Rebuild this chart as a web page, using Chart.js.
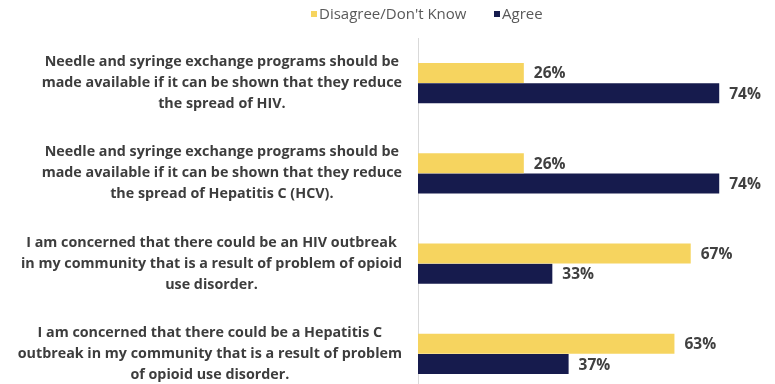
<!DOCTYPE html>
<html>
<head>
<meta charset="utf-8">
<script src="https://cdn.jsdelivr.net/npm/chart.js@4/dist/chart.umd.min.js"></script>
<style>
  html, body { margin: 0; padding: 0; background: #fff; overflow: hidden; }
  #wrap { width: 775px; height: 400px; }
</style>
</head>
<body>
<div id="wrap"><canvas id="survey" width="775" height="400"></canvas></div>
<script>
// statements, one array of lines per category
const statements = [
  ['Needle and syringe exchange programs should be', 'made available if it can be shown that they reduce', 'the spread of HIV.'],
  ['Needle and syringe exchange programs should be', 'made available if it can be shown that they reduce', 'the spread of Hepatitis C (HCV).'],
  ['I am concerned that there could be an HIV outbreak', 'in my community that is a result of problem of opioid', 'use disorder.'],
  ['I am concerned that there could be a Hepatitis C', 'outbreak in my community that is a result of problem', 'of opioid use disorder.']
];
const seriesNames = ["Disagree/Don't Know", 'Agree'];
const disagreeVals = [26, 26, 67, 63];
const agreeVals = [74, 74, 33, 37];

const YELLOW = '#F6D45F';
const NAVY = '#161B4D';
const FONT = '"Open Sans", Lato, sans-serif';

// category labels: each block right-aligned to the axis, its lines centred
const labelPlugin = {
  id: 'blockLabels',
  afterDraw(chart) {
    const ctx = chart.ctx;
    const y = chart.scales.y;
    const right = chart.chartArea.left - 16;
    const lh = 21;
    ctx.save();
    ctx.font = 'bold 14.3px ' + FONT;
    ctx.fillStyle = '#3d3d3d';
    ctx.textAlign = 'center';
    ctx.textBaseline = 'middle';
    chart.data.labels.forEach((lines, i) => {
      const widest = Math.max(...lines.map(l => ctx.measureText(l).width));
      const cx = right - widest / 2;
      const cy = y.getPixelForTick(i);
      lines.forEach((l, k) => {
        ctx.fillText(l, cx, cy + (k - (lines.length - 1) / 2) * lh);
      });
    });
    ctx.restore();
  }
};

// percentage after the end of each bar
const valuePlugin = {
  id: 'barValues',
  afterDatasetsDraw(chart) {
    const ctx = chart.ctx;
    ctx.save();
    ctx.font = 'bold 15.5px ' + FONT;
    ctx.fillStyle = '#404040';
    ctx.textAlign = 'left';
    ctx.textBaseline = 'middle';
    chart.data.datasets.forEach((ds, di) => {
      chart.getDatasetMeta(di).data.forEach((bar, i) => {
        ctx.fillText(ds.data[i] + '%', bar.x + 10, bar.y + 1);
      });
    });
    ctx.restore();
  }
};

// small square-marker legend above the plot
const legendPlugin = {
  id: 'topLegend',
  afterDraw(chart) {
    const ctx = chart.ctx;
    const starts = [311, 494];
    ctx.save();
    ctx.font = '15px ' + FONT;
    ctx.textBaseline = 'middle';
    chart.data.datasets.forEach((ds, i) => {
      ctx.fillStyle = ds.backgroundColor;
      ctx.fillRect(starts[i], 11, 6, 6);
      ctx.fillStyle = '#595959';
      ctx.fillText(ds.label, starts[i] + 8, 15);
    });
    ctx.restore();
  }
};

new Chart(document.getElementById('survey'), {
  type: 'bar',
  data: {
    labels: statements,
    datasets: [
      { label: seriesNames[0], data: disagreeVals, backgroundColor: YELLOW },
      { label: seriesNames[1], data: agreeVals, backgroundColor: NAVY }
    ]
  },
  options: {
    indexAxis: 'y',
    responsive: false,
    animation: false,
    categoryPercentage: 0.453,
    barPercentage: 0.976,
    layout: { padding: { left: 410, right: 11, top: 38, bottom: 1 } },
    plugins: { legend: { display: false }, tooltip: { enabled: false } },
    scales: {
      x: { display: false, min: 0, max: 85 },
      y: {
        grid: { display: false },
        ticks: { display: false },
        border: { display: true, color: '#d9d9d9', width: 1 }
      }
    }
  },
  plugins: [labelPlugin, valuePlugin, legendPlugin]
});
</script>
</body>
</html>
